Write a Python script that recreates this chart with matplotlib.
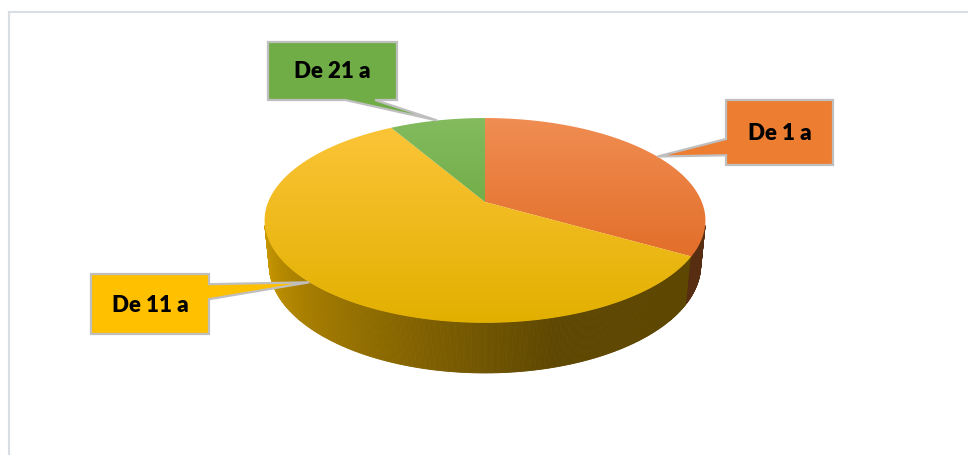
import numpy as np
import matplotlib
matplotlib.use("Agg")
from matplotlib import pyplot as plt
from matplotlib.patches import Polygon
from matplotlib.colors import to_rgb

# data
categories = ["De 1 a", "De 11 a", "De 21 a"]
values = [4, 7, 1]
box_colors = ["#ed7d31", "#ffc000", "#70ad47"]
top_light = ["#f08d52", "#fcc53a", "#83bb5e"]
top_dark = ["#dc6016", "#e2b000", "#5c9c2c"]

# geometry of the 3d pie (pixel space, perspective camera)
W, H = 968, 455
CX, CY = 485, 202
ELEV = np.radians(26.9)
DIST = 4.95
FOCAL = 1084
XSCALE = 0.99
THICK = 0.2286
TOP_Y, BOT_Y = 118, 323


def proj(t, z=0.0):
  t = np.radians(t)
  X, Y = np.cos(t), np.sin(t)
  c, s = np.cos(ELEV), np.sin(ELEV)
  depth = DIST + Y * c - z * s
  up = Y * s + z * c
  return CX + XSCALE * X * FOCAL / depth, CY - up * FOCAL / depth


def shade(t):
  # light from the left: bright on the left of the wall, dark to the right
  return 0.37 + 0.43 * np.clip((285 - t) / (285 - 193), 0, 1)


fig = plt.figure(figsize=(9.68, 4.55), dpi=100)
ax = fig.add_axes([0, 0, 1, 1])
ax.set_xlim(0, W)
ax.set_ylim(H, 0)
ax.axis('off')

total = float(sum(values))
cum = np.cumsum([0] + values)
starts = 90 - 360 * cum[:-1] / total
ends = 90 - 360 * cum[1:] / total
mids = (starts + ends) / 2


def slice_at(t):
  # which slice owns angle t (degrees)
  for i in range(len(values)):
    lo, hi = ends[i], starts[i]
    tt = t
    while tt > hi:
      tt -= 360
    while tt < lo:
      tt += 360
    if lo <= tt <= hi:
      return i
  return 0


# side wall (front visible part)
lim = np.degrees(np.arcsin(1.0 / (DIST * np.cos(ELEV))))
ts = np.linspace(180 + lim, 360 - lim, 400)
for k in range(len(ts) - 1):
  t0, t1 = ts[k], ts[k + 1]
  i = slice_at((t0 + t1) / 2)
  col = np.array(to_rgb(box_colors[i])) * shade((t0 + t1) / 2)
  pts = [proj(t0), proj(t1), proj(t1, -THICK), proj(t0, -THICK)]
  ax.add_patch(Polygon(pts, closed=True, facecolor=col, edgecolor=col,
                       lw=0.6, zorder=1))

# top faces with a vertical gradient
rows = np.arange(H)
u = np.clip((rows - TOP_Y) / float(BOT_Y - TOP_Y), 0, 1)[:, None]
for i in range(len(values)):
  arc = np.linspace(starts[i], ends[i], 200)
  pts = [proj(t) for t in arc] + [(CX, CY)]
  poly = Polygon(pts, closed=True, facecolor='none', edgecolor='none')
  ax.add_patch(poly)
  c1 = np.array(to_rgb(top_light[i]))
  c2 = np.array(to_rgb(top_dark[i]))
  grad = (c1 * (1 - u) + c2 * u)[:, None, :]
  im = ax.imshow(grad, extent=[0, W, H, 0], origin='upper', aspect='auto',
                 interpolation='bilinear', zorder=2)
  im.set_clip_path(poly)

ax.set_xlim(0, W)
ax.set_ylim(H, 0)

# callouts: box (x0, y0, x1, y1), side of the pointer, pointer base as fractions
callouts = [
  ((726, 100, 833, 165), 'left', (0.60, 0.85)),
  ((91, 274, 209, 334), 'right', (0.17, 0.42)),
  ((268, 42, 397, 100), 'bottom', (0.60, 0.83)),
]

for i, (box, side, frac) in enumerate(callouts):
  x0, y0, x1, y1 = box
  tip = proj(mids[i])
  if side == 'left':
    ya, yb = y0 + frac[0] * (y1 - y0), y0 + frac[1] * (y1 - y0)
    pts = [(x0, y0), (x1, y0), (x1, y1), (x0, y1), (x0, yb), tip, (x0, ya)]
  elif side == 'right':
    ya, yb = y0 + frac[0] * (y1 - y0), y0 + frac[1] * (y1 - y0)
    pts = [(x0, y0), (x1, y0), (x1, ya), tip, (x1, yb), (x1, y1), (x0, y1)]
  else:
    xa, xb = x0 + frac[0] * (x1 - x0), x0 + frac[1] * (x1 - x0)
    pts = [(x0, y0), (x1, y0), (x1, y1), (xb, y1), tip, (xa, y1), (x0, y1)]
  ax.add_patch(Polygon(pts, closed=True, facecolor=box_colors[i],
                       edgecolor='#bfbfbf', lw=1.6, joinstyle='miter',
                       zorder=5))
  ax.text((x0 + x1) / 2, (y0 + y1) / 2 + 1, categories[i], ha='center',
          va='center', fontsize=16, fontweight='heavy', family='Lato',
          color='black', zorder=6)

# chart area border
ax.plot([8.5, 8.5], [12, H], color='#d9dee4', lw=1.5, zorder=0)
ax.plot([8.5, W], [12, 12], color='#d9dee4', lw=1.5, zorder=0)

plt.savefig('out.png', dpi=100)
